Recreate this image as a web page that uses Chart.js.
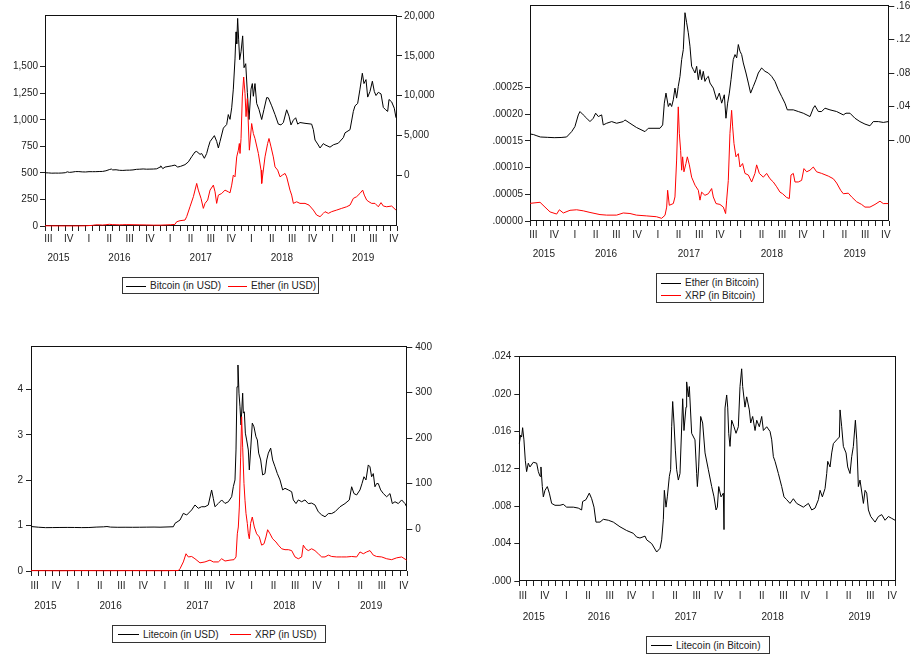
<!DOCTYPE html>
<html><head><meta charset="utf-8">
<script src="https://cdn.jsdelivr.net/npm/chart.js@4.4.0/dist/chart.umd.min.js"></script>
<style>
html,body{margin:0;padding:0;background:#fff;}
body{width:911px;height:656px;position:relative;overflow:hidden;font-family:"Liberation Sans",Arial,sans-serif;}
canvas{position:absolute;}
.lbox{position:absolute;box-sizing:border-box;border:1px solid #333;background:#fff;}
.litem{position:absolute;height:12px;display:flex;align-items:center;white-space:nowrap;font-size:10px;line-height:12px;color:#222;}
.lline{display:inline-block;height:0;border-top:1px solid #000;}
.ltext{margin-left:4px;}
</style></head><body>
<script>
// ---------- axis labels ----------
const quarterLabels = ['III','IV','I','II','III','IV','I','II','III','IV','I','II','III','IV','I','II','III','IV'];
const quarterMid = [1.5,4.5,7.5,10.5,13.5,16.5,19.5,22.5,25.5,28.5,31.5,34.5,37.5,40.5,43.5,46.5,49.5,52.5];
const yearLabels = ['2015','2016','2017','2018','2019'];
const yearMid = [3,12,24,36,48];
const monthMin = 1, monthMax = 53; // months since 1 Jul 2015

// ---------- Panel 1: Bitcoin (USD, right axis) & Ether (USD, left axis) ----------
const btcT = [1.0,1.5,2.0,2.5,3.0,3.5,4.0,4.3,4.6,5.0,5.5,6.0,6.5,7.0,7.5,8.0,8.5,9.0,9.5,10.0,10.5,10.8,11.0,11.5,12.0,12.5,13.0,13.5,14.0,14.5,15.0,15.5,16.0,16.5,17.0,17.5,18.0,18.1,18.4,18.73,19.71,20.2,20.6,21.0,21.68,22.18,22.67,23.16,23.41,23.9,24.15,24.54,24.88,25.13,25.38,26.02,26.36,26.61,26.85,27.35,27.84,28.08,28.33,28.58,28.82,29.07,29.22,29.32,29.46,29.61,29.76,29.96,30.2,30.4,30.65,30.89,31.14,31.43,31.63,31.78,32.02,32.27,32.61,33.01,33.35,33.75,33.99,34.49,34.98,35.47,35.86,36.21,36.7,37.05,37.34,37.69,38.03,38.33,38.67,39.41,40.39,40.64,40.89,41.28,41.63,42.12,42.36,43.1,43.6,44.33,45.07,45.32,46.06,46.55,46.8,47.19,47.53,47.88,48.12,48.42,48.67,49.01,49.36,49.65,49.9,50.24,50.64,50.98,51.33,51.62,51.82,52.21,52.6,52.85];
const btcUSD = [280,265,230,240,235,250,290,400,330,360,430,430,390,380,420,415,420,440,450,530,680,750,640,660,590,575,605,610,640,710,730,760,730,740,750,780,1000,1150,800,1000,1150,1250,1000,1080,1300,1650,2300,2900,2960,2600,2700,2100,2700,3500,4200,4950,4230,3400,4200,5900,6350,7600,7000,8450,10800,14600,18000,16500,19700,17000,14500,15500,17500,13500,14000,10400,6980,10800,11500,9900,11500,9000,8250,6980,8250,9740,9700,8700,7600,6400,6300,6600,8200,7400,6300,6900,7200,6400,6600,6500,6400,5700,4400,3900,3400,3950,3800,3500,3800,4000,4700,5300,5700,8000,8700,9000,10800,12800,11500,12000,9800,10500,11800,10500,10000,10400,10200,8500,8200,8000,9500,9200,8400,7200];
const ethT = [1.0,2.0,3.0,4.0,5.0,6.0,7.0,7.5,8.0,8.5,9.0,9.5,10.0,10.5,11.0,11.5,12.0,12.5,13.0,14.0,15.0,16.0,17.0,18.0,18.73,19.5,20.2,20.45,20.95,21.68,21.93,22.42,22.92,23.41,23.65,24.05,24.39,24.64,25.03,25.38,25.87,26.12,26.36,26.61,27.1,27.59,28.08,28.33,28.58,28.82,29.07,29.32,29.56,29.71,29.81,29.96,30.15,30.35,30.55,30.7,30.89,31.19,31.53,31.78,32.02,32.52,32.91,33.01,33.5,33.89,34.09,34.39,34.73,34.98,35.37,35.72,36.06,36.46,36.7,37.19,37.44,37.69,38.18,38.67,39.41,40.0,40.64,41.13,41.63,42.12,42.36,42.86,43.35,44.09,44.83,45.56,46.06,46.55,47.04,47.53,47.93,48.17,48.52,48.86,49.26,49.75,50.24,50.64,50.98,51.47,52.21,52.85];
const ethUSD = [2,1.3,0.9,1,0.9,0.9,2,4,6,11,11,9,12,16,13,12,11,12,13,12,11,10,8,8,10,12,15,40,50,56,88,181,276,401,338,260,166,213,244,338,385,322,213,291,306,338,322,312,385,479,463,651,714,777,683,824,1215,1403,1247,1030,1200,714,965,871,824,683,526,401,651,777,824,745,651,557,526,463,479,495,463,338,291,213,228,213,213,197,150,103,88,119,135,119,135,150,166,181,197,260,276,307,338,291,244,228,213,213,181,220,188,181,188,150];

// ---------- Panel 2: Ether (BTC, right axis) & XRP (BTC, left axis) ----------
const ethBtcT = [1.0,1.5,2.0,2.5,3.5,4.5,5.5,6.3,7.03,7.5,7.99,8.23,8.71,9.2,9.68,10.16,10.5,10.89,11.37,11.6,12.1,12.82,13.54,14.5,14.74,15.47,16.4,17.64,18.12,19.81,20.2,20.44,20.68,21.02,21.26,21.5,21.74,21.98,22.22,22.46,22.71,22.95,23.19,23.43,23.67,23.91,24.15,24.39,24.64,24.88,25.12,25.36,25.6,25.84,26.08,26.32,26.56,26.81,27.05,27.53,28.01,28.4,28.74,29.12,29.36,29.6,29.85,30.09,30.42,30.67,30.91,31.15,31.39,31.63,31.87,32.26,32.6,32.93,33.32,33.71,34.04,34.52,35.01,35.49,35.97,36.45,36.94,37.42,37.9,38.24,38.63,39.11,39.83,40.55,41.52,42.0,42.24,42.73,43.21,43.69,44.41,45.38,46.34,46.73,47.31,48.03,48.75,49.48,50.2,50.68,51.41,52.13,52.86];
const ethBTC = [0.0072,0.0065,0.005,0.0036,0.0032,0.0028,0.003,0.0036,0.010,0.016,0.030,0.034,0.030,0.026,0.022,0.026,0.032,0.028,0.030,0.018,0.020,0.022,0.020,0.022,0.024,0.020,0.015,0.010,0.014,0.014,0.018,0.044,0.056,0.040,0.044,0.040,0.048,0.062,0.050,0.064,0.076,0.096,0.108,0.152,0.140,0.128,0.112,0.088,0.084,0.080,0.088,0.072,0.084,0.072,0.082,0.070,0.074,0.076,0.068,0.062,0.048,0.056,0.044,0.054,0.026,0.044,0.056,0.072,0.096,0.102,0.098,0.114,0.106,0.102,0.092,0.080,0.068,0.056,0.064,0.072,0.080,0.086,0.082,0.080,0.076,0.070,0.060,0.052,0.044,0.036,0.036,0.036,0.034,0.032,0.028,0.038,0.041,0.034,0.034,0.038,0.036,0.034,0.030,0.032,0.032,0.026,0.022,0.019,0.017,0.022,0.022,0.021,0.022];
const xrpBtcT = [1.0,2.45,3.17,3.9,4.86,5.25,5.82,6.79,7.75,8.71,9.68,11.13,12.1,13.54,14.5,15.47,16.4,17.9,19.3,20.05,20.54,20.78,20.92,21.16,21.74,21.98,22.22,22.46,22.61,22.8,22.95,23.09,23.28,23.57,23.77,24.06,24.39,24.88,25.36,25.6,25.84,26.32,26.81,27.29,27.53,27.92,28.49,28.98,29.31,29.46,29.7,29.94,30.18,30.33,30.52,30.81,31.15,31.39,31.77,32.11,32.6,33.08,33.56,33.8,34.19,34.77,35.25,35.73,36.21,36.7,37.18,37.56,38.14,38.53,38.77,39.11,39.35,39.83,40.31,40.65,41.04,41.52,42.0,42.48,43.21,44.17,44.9,45.38,45.96,46.34,47.07,47.55,48.27,48.99,49.48,50.2,50.93,51.65,52.13,52.86];
const xrpBTC = [3.3e-5,3.5e-5,2.6e-5,1.7e-5,1.3e-5,2.1e-5,1.5e-5,2.0e-5,2.1e-5,1.9e-5,1.6e-5,1.2e-5,1.1e-5,1.1e-5,1.5e-5,1.4e-5,1.1e-5,0.95e-5,0.8e-5,0.5e-5,1.07e-5,2.6e-5,5.75e-5,2.94e-5,3.26e-5,4.5e-5,11.4e-5,21.35e-5,16.4e-5,13.2e-5,9.5e-5,12.0e-5,9.2e-5,10.75e-5,12.0e-5,10.5e-5,8.2e-5,6.7e-5,5.75e-5,3.9e-5,5.4e-5,4.8e-5,5.1e-5,6.07e-5,4.5e-5,3.26e-5,3.1e-5,2.6e-5,1.39e-5,3.9e-5,7.6e-5,16.4e-5,20.7e-5,17.6e-5,14.5e-5,12.0e-5,12.6e-5,10.1e-5,10.75e-5,8.9e-5,8.6e-5,7.3e-5,8.9e-5,10.5e-5,8.9e-5,8.2e-5,8.9e-5,7.9e-5,7.3e-5,6.4e-5,5.4e-5,5.1e-5,4.4e-5,4.2e-5,8.6e-5,8.9e-5,7.3e-5,7.3e-5,7.6e-5,9.8e-5,9.2e-5,9.5e-5,10.1e-5,9.2e-5,8.9e-5,8.4e-5,7.9e-5,7.1e-5,5.75e-5,5.1e-5,5.2e-5,4.5e-5,3.6e-5,3.1e-5,2.6e-5,2.6e-5,3.1e-5,3.7e-5,3.26e-5,3.26e-5];

// ---------- Panel 3: Litecoin (USD, right axis) & XRP (USD, left axis) ----------
const ltcT = [1,2,3,4,5,6,7,8,9,10,11,11.5,12,13,14,15,16,17,18,18.83,20.67,20.9,21.59,22.05,22.51,23.2,23.66,24.12,24.58,25.04,25.5,25.96,26.19,26.42,26.89,27.35,27.81,28.27,28.73,28.96,29.19,29.33,29.47,29.6,29.74,29.88,30.02,30.25,30.34,30.48,30.62,30.8,31.03,31.17,31.35,31.58,31.81,32.09,32.28,32.46,32.74,33.01,33.33,33.57,33.8,34.12,34.39,34.72,35.04,35.41,35.78,36.1,36.56,37.02,37.25,37.62,37.94,38.4,38.86,39.32,39.78,40.24,40.7,41.17,41.63,42.09,42.55,43.01,43.7,44.39,44.99,45.31,45.63,46.0,46.46,46.74,47.01,47.29,47.61,47.84,48.07,48.3,48.53,48.76,48.99,49.32,49.69,50.15,50.61,50.93,51.3,51.76,52.22,52.68,52.91];
const ltcUSD = [5.5,4,3,3.2,3.4,3.5,3.4,3.1,3.3,4.2,4.8,5.5,4.2,3.8,3.9,3.8,3.9,4.1,4.3,4,5,12.5,19.8,34.5,30.8,41.9,52.9,45.6,49.1,49,52.9,85.9,67.6,49,56.3,63.9,56.3,60,71.1,93.2,108,174,313,361,299,269,229,299,255,258,211,196,174,130,174,233,225,203,196,167,152,119,122,152,167,178,152,137,122,108,86,89.6,86,82,64,56,64,60,64,56,57,53,38,31,27,34,34,38,49,56,64,93,78,75,86,100,115,108,141,137,115,122,93,100,100,86,78,71,78,56,60,56,64,56,49];
const xrpT = [1,3,5,7,9,11,13,15,17,19,21.36,21.59,22.05,22.42,22.74,23.2,23.66,24.35,25.04,25.73,26.19,26.89,27.35,27.81,28.5,29.05,29.33,29.51,29.65,29.79,29.97,30.11,30.25,30.43,30.57,30.71,30.89,31.03,31.17,31.35,31.58,31.86,32.18,32.55,32.87,33.2,33.47,33.7,34.03,34.39,34.85,35.18,35.64,36.1,36.56,37.02,37.48,37.94,38.4,38.63,38.95,39.32,39.78,40.24,40.7,41.17,41.63,42.09,42.55,43.24,43.93,44.62,45.31,46.0,46.46,46.92,47.38,47.84,48.3,48.76,49.46,50.15,50.84,51.53,52.22,52.91];
const xrpUSD = [0.008,0.007,0.005,0.008,0.008,0.006,0.007,0.008,0.007,0.006,0.01,0.05,0.2,0.38,0.31,0.32,0.27,0.18,0.2,0.24,0.2,0.2,0.27,0.22,0.24,0.25,0.31,0.82,0.97,1.41,2.51,3.40,2.73,1.93,1.56,1.27,1.05,0.82,0.71,1.05,1.19,0.97,0.82,0.75,0.57,0.6,0.75,0.91,0.82,0.71,0.64,0.57,0.49,0.47,0.47,0.45,0.31,0.27,0.31,0.57,0.49,0.45,0.49,0.45,0.38,0.31,0.31,0.35,0.32,0.31,0.31,0.31,0.32,0.31,0.42,0.38,0.42,0.45,0.35,0.32,0.31,0.27,0.25,0.29,0.31,0.24];

// ---------- Panel 4: Litecoin (BTC) ----------
const ltcBtcT = [1.00,1.18,1.32,1.46,1.64,1.83,2.01,2.24,2.47,2.93,3.40,3.63,3.86,3.99,4.18,4.32,4.55,4.87,5.15,5.47,5.93,6.62,7.08,7.54,8.46,9.15,9.61,9.75,10.21,10.67,11.00,11.32,11.59,12.15,12.61,13.30,13.99,14.91,15.83,16.75,17.21,17.67,18.37,18.60,19.29,19.98,20.44,20.67,20.90,21.04,21.27,21.45,21.73,21.91,22.05,22.19,22.37,22.56,22.74,22.97,23.20,23.57,23.75,24.03,24.12,24.35,24.49,24.81,25.27,25.50,25.60,25.78,26.06,26.33,26.66,27.12,27.58,27.90,28.18,28.36,28.55,28.87,29.19,29.28,29.42,29.65,29.79,29.93,30.11,30.34,30.66,30.94,31.26,31.49,31.72,31.86,32.18,32.41,32.78,32.97,33.24,33.57,33.80,34.16,34.49,34.72,35.18,35.64,35.87,36.10,36.33,36.79,37.02,37.25,37.57,37.94,38.40,38.86,39.32,40.24,40.94,41.40,41.86,42.32,42.55,42.87,43.24,43.47,43.61,43.93,44.16,44.39,44.85,45.22,45.31,45.54,45.77,46.14,46.37,46.69,46.92,47.15,47.43,47.62,47.84,48.07,48.54,48.77,49.00,49.23,49.55,50.15,50.61,51.07,51.53,51.99,52.45,52.91];
const ltcBTC = [.0147,.0156,.0154,.0164,.0151,.0129,.0117,.0126,.0122,.0127,.0126,.0117,.0112,.0122,.0101,.0090,.0097,.0101,.0094,.0083,.0081,.0081,.0082,.0079,.0079,.0078,.0076,.0085,.0087,.0094,.0088,.0079,.0063,.0063,.0066,.0065,.0063,.0058,.0054,.0051,.0047,.0046,.0048,.0044,.0040,.0031,.0035,.0044,.0066,.0097,.0079,.0090,.0112,.0119,.0165,.0192,.0169,.0140,.0119,.0108,.0115,.0195,.0161,.0186,.0213,.0197,.0208,.0158,.0151,.0115,.0101,.0122,.0176,.0169,.0137,.0119,.0101,.0090,.0076,.0079,.0101,.0090,.0094,.0055,.0185,.0199,.0186,.0158,.0144,.0172,.0165,.0158,.0165,.0208,.0227,.0208,.0186,.0197,.0183,.0169,.0176,.0161,.0172,.0165,.0176,.0161,.0165,.0160,.0151,.0133,.0128,.0115,.0108,.0101,.0090,.0087,.0083,.0088,.0083,.0079,.0083,.0076,.0078,.0087,.0097,.0090,.0099,.0115,.0128,.0122,.0137,.0147,.0151,.0154,.0183,.0165,.0144,.0137,.0122,.0115,.0133,.0144,.0172,.0151,.0101,.0108,.0083,.0097,.0094,.0076,.0069,.0063,.0069,.0071,.0065,.0069,.0067,.0065];

// ---------- y-axis ticks ----------
const p1LeftTicks = [0,250,500,750,1000,1250,1500];
const p1LeftLabels = ['0','250','500','750','1,000','1,250','1,500'];
const p1RightTicks = [0,5000,10000,15000,20000];
const p1RightLabels = ['0','5,000','10,000','15,000','20,000'];
const p2LeftTicks = [0,0.00005,0.0001,0.00015,0.0002,0.00025];
const p2LeftLabels = ['.00000','.00005','.00010','.00015','.00020','.00025'];
const p2RightTicks = [0,0.04,0.08,0.12,0.16];
const p2RightLabels = ['.00','.04','.08','.12','.16'];
const p3LeftTicks = [0,1,2,3,4];
const p3LeftLabels = ['0','1','2','3','4'];
const p3RightTicks = [0,100,200,300,400];
const p3RightLabels = ['0','100','200','300','400'];
const p4LeftTicks = [0,0.004,0.008,0.012,0.016,0.020,0.024];
const p4LeftLabels = ['.000','.004','.008','.012','.016','.020','.024'];

// ---------- helpers ----------
const FONT = {family:'"Liberation Sans", Arial, sans-serif', size:10};
const INK = '#222';
function pts(t, v){ return t.map((x,i)=>({x:x, y:v[i]})); }
function noPad(s){ s.paddingLeft=0; s.paddingRight=0; s.paddingTop=0; s.paddingBottom=0; }
function xAxes(qPad, yPad){
  const monthTicks=[]; for(let m=monthMin;m<=monthMax;m++) monthTicks.push(m);
  const qTicks = monthTicks.concat(quarterMid).sort((a,b)=>a-b);
  return {
    xq:{type:'linear',position:'bottom',min:monthMin,max:monthMax,weight:0,
      afterBuildTicks:s=>{s.ticks=qTicks.map(v=>({value:v}));},
      afterFit:s=>{s.height=20; noPad(s);},
      grid:{drawOnChartArea:false,drawTicks:true,tickLength:5,
        tickColor:c=>(c.tick && Number.isInteger(c.tick.value))?INK:'rgba(0,0,0,0)'},
      border:{display:false},
      ticks:{autoSkip:false,maxRotation:0,minRotation:0,padding:qPad,font:FONT,color:INK,
        callback:v=>{const k=quarterMid.indexOf(v);return k>=0?quarterLabels[k]:'';}}},
    xy:{type:'linear',position:'bottom',min:monthMin,max:monthMax,weight:1,
      afterBuildTicks:s=>{s.ticks=yearMid.map(v=>({value:v}));},
      afterFit:s=>{s.height=24; noPad(s);},
      grid:{display:false,drawTicks:false,tickLength:0},
      border:{display:false},
      ticks:{autoSkip:false,maxRotation:0,minRotation:0,padding:yPad,font:FONT,color:INK,
        callback:v=>{const k=yearMid.indexOf(v);return k>=0?yearLabels[k]:'';}}}
  };
}
function yAxis(pos,min,max,vals,labels,width,pad){
  return {type:'linear',position:pos,min:min,max:max,
    afterBuildTicks:s=>{s.ticks=vals.map(v=>({value:v}));},
    afterFit:s=>{s.width=width; noPad(s);},
    grid:{drawOnChartArea:false,drawTicks:true,tickLength:5,tickColor:INK},
    border:{display:false},
    ticks:{autoSkip:false,padding:pad,font:FONT,color:INK,callback:(v,i)=>labels[i]}};
}
// frame drawn under the series (series overlay the axis lines, as in the original)
const framePlugin = {id:'frame', beforeDatasetsDraw(chart){
  const a=chart.chartArea, c=chart.ctx;
  const l=Math.round(a.left)+0.5, t=Math.round(a.top)+0.5, r=Math.round(a.right)-0.5, b=Math.round(a.bottom)-0.5;
  c.save(); c.strokeStyle='#111'; c.lineWidth=1; c.strokeRect(l,t,r-l,b-t); c.restore();
}};
function line(label,t,v,color,yID,order){
  return {label:label,data:pts(t,v),xAxisID:'xq',yAxisID:yID,borderColor:color,backgroundColor:color,
    borderWidth:1,pointRadius:0,tension:0,fill:false,order:order,clip:2};
}
function panel(box,pad,scales,datasets){
  const cv=document.createElement('canvas');
  cv.width=box.w; cv.height=box.h; cv.style.left=box.x+'px'; cv.style.top=box.y+'px';
  document.body.appendChild(cv);
  new Chart(cv,{type:'line',data:{datasets:datasets},
    options:{responsive:false,animation:false,events:[],layout:{padding:pad},
      plugins:{legend:{display:false},tooltip:{enabled:false}},scales:scales},
    plugins:[framePlugin]});
  return datasets;
}
function legend(box,items){
  const d=document.createElement('div'); d.className='lbox';
  d.style.left=box[0]+'px'; d.style.top=box[1]+'px'; d.style.width=box[2]+'px'; d.style.height=box[3]+'px';
  document.body.appendChild(d);
  items.forEach(it=>{
    const e=document.createElement('div'); e.className='litem';
    e.style.left=it.x+'px'; e.style.top=(it.y-6)+'px';
    const ln=document.createElement('span'); ln.className='lline'; ln.style.width=it.w+'px'; ln.style.borderTopColor=it.ds.borderColor;
    const tx=document.createElement('span'); tx.className='ltext'; tx.textContent=it.ds.label;
    e.appendChild(ln); e.appendChild(tx); document.body.appendChild(e);
  });
}

// ---------- Panel 1 ----------
const d1 = panel({x:0,y:0,w:455,h:270},{top:15,left:0,right:0,bottom:0},
  Object.assign(xAxes(2,6.3),{
    yL:yAxis('left',0,1987,p1LeftTicks,p1LeftLabels,45,2),
    yR:yAxis('right',-6415,20126,p1RightTicks,p1RightLabels,58,2)}),
  [line('Bitcoin (in USD)',btcT,btcUSD,'#000','yR',1), line('Ether (in USD)',ethT,ethUSD,'#ff0000','yL',0)]);
legend([122,277,197,17],[{x:126,y:286,w:20,ds:d1[0]},{x:228,y:286,w:19,ds:d1[1]}]);

// ---------- Panel 2 ----------
const d2 = panel({x:460,y:0,w:451,h:265},{top:5,left:0,right:0,bottom:0},
  Object.assign(xAxes(3,7.3),{
    yL:yAxis('left',0,0.000404,p2LeftTicks,p2LeftLabels,70,2),
    yR:yAxis('right',-0.0967,0.1612,p2RightTicks,p2RightLabels,21.7,2)}),
  [line('Ether (in Bitcoin)',ethBtcT,ethBTC,'#000','yR',1), line('XRP (in Bitcoin)',xrpBtcT,xrpBTC,'#ff0000','yL',0)]);
legend([656,273,108,30],[{x:661,y:283,w:20,ds:d2[0]},{x:661,y:295.5,w:20,ds:d2[1]}]);

// ---------- Panel 3 ----------
const d3 = panel({x:0,y:330,w:450,h:285},{top:16,left:0,right:0,bottom:0},
  Object.assign(xAxes(4,9),{
    yL:yAxis('left',0,4.96,p3LeftTicks,p3LeftLabels,31,3),
    yR:yAxis('right',-92.4,402.8,p3RightTicks,p3RightLabels,42.7,3)}),
  [line('Litecoin (in USD)',ltcT,ltcUSD,'#000','yR',1), line('XRP (in USD)',xrpT,xrpUSD,'#ff0000','yL',0)]);
legend([112,625,214,18],[{x:118,y:634.5,w:21,ds:d3[0]},{x:230,y:634.5,w:21,ds:d3[1]}]);

// ---------- Panel 4 ----------
const d4 = panel({x:460,y:340,w:451,h:285},{top:16,left:0,right:15.3,bottom:0},
  Object.assign(xAxes(4.7,10.3),{
    yL:yAxis('left',0,0.02407,p4LeftTicks,p4LeftLabels,59.3,3)}),
  [line('Litecoin (in Bitcoin)',ltcBtcT,ltcBTC,'#000','yL',0)]);
legend([646,636,124,18],[{x:651,y:645.5,w:21,ds:d4[0]}]);
</script>
</body></html>
